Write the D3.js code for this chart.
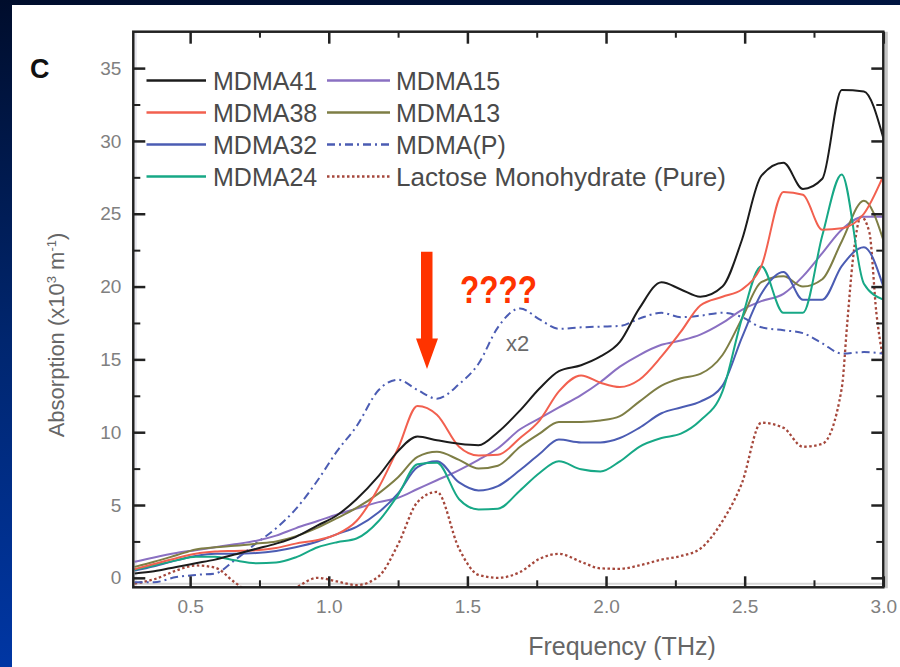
<!DOCTYPE html>
<html><head><meta charset="utf-8">
<script src="https://cdn.jsdelivr.net/npm/d3@7"></script>
<style>html,body{margin:0;padding:0;background:#fff;} svg{display:block;}</style>
</head><body><svg id="c" width="900" height="667"></svg>
<script>
// ---------------- data ----------------
const freqs = [0.30,0.37,0.45,0.52,0.59,0.66,0.74,0.81,0.88,0.96,1.03,1.10,1.18,1.25,1.32,1.39,1.47,1.54,1.61,1.69,1.76,1.83,1.91,1.98,2.05,2.12,2.20,2.27,2.34,2.42,2.49,2.56,2.64,2.71,2.78,2.85,2.93,3.00];
const mdma41 = [0.3,0.45,0.75,1.0,1.25,1.6,2.0,2.35,2.8,3.6,4.3,5.4,7.0,8.7,9.7,9.45,9.2,9.1,10.0,11.5,13.0,14.2,14.6,15.2,16.2,18.5,20.3,19.8,19.3,20.0,23.2,27.6,28.5,26.7,27.4,33.5,33.4,30.2];
const mdma38 = [0.6,0.95,1.35,1.65,1.8,1.85,1.9,2.05,2.35,2.6,3.0,3.9,6.2,8.9,11.8,11.2,9.0,8.4,8.45,9.6,10.8,12.8,13.9,13.4,13.1,13.6,15.2,16.9,18.7,19.3,19.8,21.4,26.5,26.3,23.9,24.0,25.0,27.6];
const mdma32 = [0.5,0.8,1.2,1.5,1.65,1.65,1.7,1.85,2.1,2.5,3.0,3.5,4.5,5.8,7.6,8.0,6.55,6.0,6.3,7.4,8.5,9.5,9.3,9.3,9.6,10.3,11.3,11.7,12.1,13.2,16.5,19.5,21.0,19.1,19.1,21.4,22.7,20.0];
const mdma24 = [0.55,0.85,1.2,1.45,1.45,1.2,1.0,1.05,1.4,2.1,2.45,2.7,3.9,5.7,7.8,7.9,5.4,4.7,4.75,6.0,7.2,8.0,7.45,7.3,8.0,9.0,9.6,9.9,10.8,12.8,17.8,21.4,18.2,18.2,23.5,27.7,20.2,19.1];
const mdma15 = [1.1,1.4,1.7,1.9,2.1,2.3,2.55,2.9,3.4,3.9,4.35,4.75,5.2,5.5,6.1,6.7,7.4,8.1,8.9,10.2,10.95,11.7,12.55,13.45,14.5,15.3,16.0,16.3,16.7,17.5,18.4,19.0,19.5,20.7,22.3,23.9,24.8,24.8];
const mdma13 = [0.75,1.1,1.55,1.95,2.1,2.2,2.35,2.5,2.85,3.45,4.1,4.8,5.8,6.9,8.3,8.65,8.1,7.5,7.7,9.0,9.9,10.7,10.7,10.8,11.1,12.1,13.2,13.7,14.0,15.3,17.8,20.3,20.7,20.0,20.5,23.1,25.9,23.2];
const mdmaP  = [-0.3,-0.3,0.05,0.2,0.3,1.2,2.4,3.4,4.7,6.7,8.7,10.4,12.9,13.6,12.9,12.3,13.3,14.7,17.2,18.5,17.75,17.1,17.2,17.25,17.3,17.8,18.2,17.9,18.0,18.2,17.9,17.2,17.0,16.8,16.1,15.4,15.5,15.4];
const lactoseFreqs = [0.30,0.37,0.45,0.52,0.59,0.66,0.74,0.81,0.88,0.96,1.03,1.10,1.18,1.25,1.32,1.39,1.47,1.54,1.61,1.69,1.76,1.83,1.91,1.98,2.05,2.12,2.20,2.27,2.34,2.42,2.49,2.56,2.64,2.71,2.78,2.85,2.87,2.89,2.92,2.95,2.975,3.00];
const lactose = [-0.4,-0.1,0.5,0.85,0.7,-0.3,-1.3,-1.5,-0.7,0.0,-0.25,-0.5,0.1,2.3,5.2,5.9,2.0,0.2,0.0,0.4,1.3,1.65,1.1,0.65,0.62,0.85,1.25,1.5,2.0,3.9,6.5,10.65,10.3,9.0,9.2,13.0,17.5,21.8,24.8,23.7,18.2,15.0];

const seriesNames  = ["MDMA41","MDMA38","MDMA32","MDMA24","MDMA15","MDMA13","MDMA(P)","Lactose Monohydrate (Pure)"];
const seriesColors = ["#1c1c1c","#f2604f","#4b5cb3","#17a886","#8a70c2","#7e7e45","#4b5cb3","#a5473b"];
const seriesDash   = [null,null,null,null,null,null,"8,4,2,4","2.5,2.5"];

const xTicks = [0.5,1.0,1.5,2.0,2.5,3.0];
const xMinor = [0.75,1.25,1.75,2.25,2.75];
const yTicks = [0,5,10,15,20,25,30,35];
const yMinor = [2.5,7.5,12.5,17.5,22.5,27.5,32.5];

// ---------------- drawing ----------------
const svg = d3.select("#c");
const defs = svg.append("defs");
const g = defs.append("linearGradient").attr("id","bg").attr("x1",0).attr("y1",0).attr("x2",0.15).attr("y2",1);
g.append("stop").attr("offset",0).attr("stop-color","#000d2c");
g.append("stop").attr("offset",0.5).attr("stop-color","#00266f");
g.append("stop").attr("offset",1).attr("stop-color","#0037a6");
svg.append("rect").attr("width",900).attr("height",667).attr("fill","url(#bg)");
svg.append("rect").attr("x",12).attr("y",5).attr("width",888).attr("height",662).attr("fill","#ffffff");

const L=133.3, R=883.3, T=31.7, B=587.3;
const x = d3.scaleLinear().domain([0.295,3.0]).range([L,R]);
const y = d3.scaleLinear().domain([-0.65,37.5]).range([B,T]);

defs.append("clipPath").attr("id","clip").append("rect")
  .attr("x",L).attr("y",T).attr("width",R-L).attr("height",B-T);

// scan-like shading lines
svg.append("line").attr("x1",L+2.5).attr("x2",L+2.5).attr("y1",T).attr("y2",B).attr("stroke","#e6e6ee").attr("stroke-width",2);
svg.append("line").attr("x1",L).attr("x2",R).attr("y1",B-3.5).attr("y2",B-3.5).attr("stroke","#d6d6d6").attr("stroke-width",2);
svg.append("line").attr("x1",R+3).attr("x2",R+3).attr("y1",T).attr("y2",B+1).attr("stroke","#c4c4c4").attr("stroke-width",3);

// series lines
const plot = svg.append("g").attr("clip-path","url(#clip)");
const allSeries = [mdma41,mdma38,mdma32,mdma24,mdma15,mdma13,mdmaP];
const drawOrder = [6,4,5,2,3,1,0];
const lineGen = d3.line().x((d,i)=>x(freqs[i])).y(d=>y(d)).curve(d3.curveMonotoneX);
const lacGen = d3.line().x((d,i)=>x(lactoseFreqs[i])).y(d=>y(d)).curve(d3.curveMonotoneX);
plot.append("path").datum(lactose).attr("d",lacGen).attr("fill","none")
  .attr("stroke",seriesColors[7]).attr("stroke-width",2.3).attr("stroke-dasharray",seriesDash[7]);
drawOrder.forEach(k=>{
  plot.append("path").datum(allSeries[k]).attr("d",lineGen).attr("fill","none")
    .attr("stroke",seriesColors[k]).attr("stroke-width",2)
    .attr("stroke-dasharray",seriesDash[k]).attr("stroke-linejoin","round");
});

// axes
function styleAxis(sel, w){
  sel.select(".domain").remove();
  sel.selectAll(".tick line").attr("stroke","#222").attr("stroke-width",w);
  sel.selectAll(".tick text").attr("fill","#808080").attr("font-family","Liberation Sans, Arial, sans-serif").attr("font-size",19);
}
const fmtX = d3.format(".1f");
svg.append("g").attr("transform",`translate(0,${B})`)
  .call(d3.axisBottom(x).tickValues(xTicks).tickSize(-11).tickPadding(12).tickFormat(fmtX)).call(s=>styleAxis(s,2.5));
svg.append("g").attr("transform",`translate(0,${B})`)
  .call(d3.axisBottom(x).tickValues(xMinor).tickSize(-7).tickFormat("")).call(s=>styleAxis(s,2));
svg.append("g").attr("transform",`translate(0,${T})`)
  .call(d3.axisTop(x).tickValues(xTicks).tickSize(-12).tickFormat("")).call(s=>styleAxis(s,2.5));
svg.append("g").attr("transform",`translate(0,${T})`)
  .call(d3.axisTop(x).tickValues(xMinor).tickSize(-6).tickFormat("")).call(s=>styleAxis(s,2));
svg.append("g").attr("transform",`translate(${L},0)`)
  .call(d3.axisLeft(y).tickValues(yTicks).tickSize(-12).tickPadding(12).tickFormat(d3.format("d"))).call(s=>styleAxis(s,2.5));
svg.append("g").attr("transform",`translate(${L},0)`)
  .call(d3.axisLeft(y).tickValues(yMinor).tickSize(-7).tickFormat("")).call(s=>styleAxis(s,2));
svg.append("g").attr("transform",`translate(${R},0)`)
  .call(d3.axisRight(y).tickValues(yTicks).tickSize(-12).tickFormat("")).call(s=>styleAxis(s,2.5));
svg.append("g").attr("transform",`translate(${R},0)`)
  .call(d3.axisRight(y).tickValues(yMinor).tickSize(-7).tickFormat("")).call(s=>styleAxis(s,2));

// frame
svg.append("rect").attr("x",L).attr("y",T).attr("width",R-L).attr("height",B-T)
  .attr("fill","none").attr("stroke","#222").attr("stroke-width",2.5);

// axis titles
const FF = "Liberation Sans, Arial, sans-serif";
svg.append("text").attr("x",622).attr("y",655).attr("text-anchor","middle")
  .attr("font-family",FF).attr("font-size",25).attr("fill","#666").text("Frequency (THz)");
const yt = svg.append("text").attr("transform","translate(64,335) rotate(-90)").attr("text-anchor","middle")
  .attr("font-family",FF).attr("font-size",22).attr("fill","#666");
yt.append("tspan").text("Absorption (x10");
yt.append("tspan").attr("dy",-8).attr("font-size",13).text("3");
yt.append("tspan").attr("dy",8).text(" m");
yt.append("tspan").attr("dy",-8).attr("font-size",13).text("-1");
yt.append("tspan").attr("dy",8).text(")");

svg.append("text").attr("x",30).attr("y",78).attr("font-family",FF).attr("font-weight","bold")
  .attr("font-size",27).attr("fill","#111").text("C");

// legend
const rowsY = [80.5,112.5,144.5,176.5];
const colX = [{x1:146.5,x2:206,tx:213},{x1:327,x2:390,tx:396}];
seriesNames.forEach((name,i)=>{
  const c = colX[Math.floor(i/4)], ry = rowsY[i%4];
  svg.append("line").attr("x1",c.x1).attr("x2",c.x2).attr("y1",ry).attr("y2",ry)
    .attr("stroke",seriesColors[i]).attr("stroke-width",2.6).attr("stroke-dasharray",seriesDash[i]);
  const t = svg.append("text").attr("x",c.tx).attr("y",ry+9).attr("font-family",FF).attr("font-size",25)
    .attr("fill","#4a4a4a").text(name);
  if (i === 7) t.attr("textLength",330).attr("lengthAdjust","spacingAndGlyphs");
});

// annotations
svg.append("path").attr("d","M421,251.7 L432.5,251.7 L432.5,338.5 L438,338.5 L427,369 L416,338.5 L421,338.5 Z")
  .attr("fill","#ff3300");
svg.append("text").attr("x",460).attr("y",303).attr("font-family",FF).attr("font-weight","bold")
  .attr("font-size",38).attr("fill","#ff3300").attr("textLength",77).attr("lengthAdjust","spacingAndGlyphs").text("????");
svg.append("text").attr("x",506).attr("y",351).attr("font-family",FF).attr("font-size",22)
  .attr("fill","#6a6a6a").text("x2");
</script></body></html>
